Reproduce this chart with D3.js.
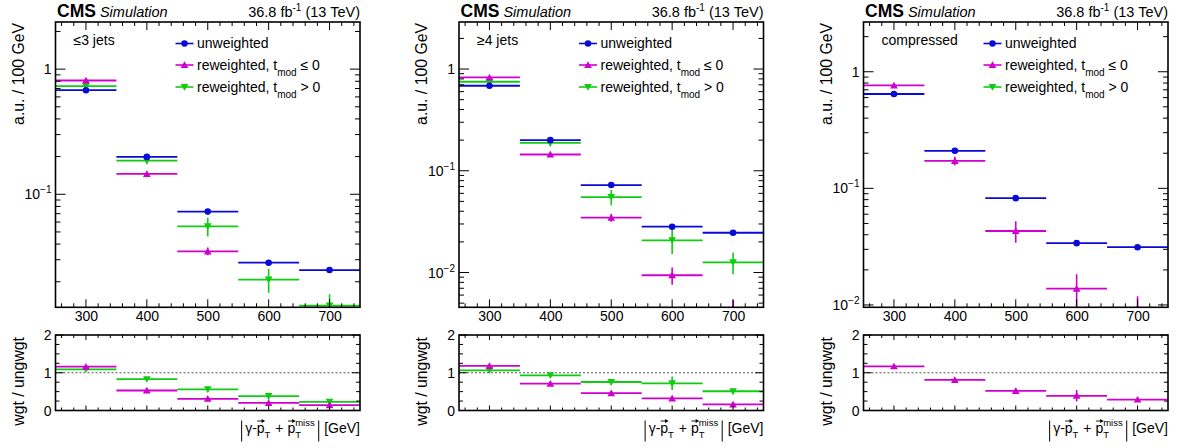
<!DOCTYPE html>
<html>
<head>
<meta charset="utf-8">
<script src="https://cdn.jsdelivr.net/npm/d3@7"></script>
<style>
  html, body { margin: 0; padding: 0; background: #fff; }
  svg { display: block; }
  text { font-family: "Liberation Sans", Arial, Helvetica, sans-serif; fill: #000; }
</style>
</head>
<body>
<svg id="chart" width="1178" height="448"></svg>
<script>
// Bin centres of the |gamma - pT + pTmiss| distribution [GeV], bin width 100 GeV
const binCenters = [300, 400, 500, 600, 700];
const binWidth = 100;
const xTickValues = [300, 400, 500, 600, 700];

const panelLabels = ["≤3 jets", "≥4 jets", "compressed"];
const legendLabels = ["unweighted", "reweighted, t", "reweighted, t"];
const legendRelations = ["", "\u00a0≤ 0", "\u00a0> 0"];
const lumiText = ["36.8 fb", "-1", "\u00a0(13 TeV)"];

// Vertical ranges of the upper (log) pads
const mainYDomains = [[0.0125, 2.38], [0.00455, 2.9], [0.00955, 2.67]];
const ratioYDomain = [0, 2];

// Normalised distributions (a.u. / 100 GeV)
const unwJets3 = [0.679, 0.199, 0.0727, 0.0284, 0.0248];
const unwJets4 = [0.685, 0.200, 0.0724, 0.0282, 0.0246];
const unwCompressed = [0.644, 0.210, 0.0824, 0.0339, 0.0313];
const unwErrJets3 = [0.008, 0.003, 0.0015, 0.0008, 0.0008];
const unwErrJets4 = [0.008, 0.003, 0.0015, 0.0008, 0.0008];
const unwErrCompressed = [0.008, 0.003, 0.0015, 0.0008, 0.0008];

// reweighted, t_mod <= 0
const lowJets3 = [0.811, 0.1455, 0.0350, 0.0057, 0.0035];
const lowJets4 = [0.828, 0.1445, 0.0346, 0.0094, 0.0044];
const lowCompressed = [0.764, 0.172, 0.0431, 0.0138, 0.0094];
const lowErrJets3 = [0.02, 0.006, 0.0025, 0.001, 0.001];
const lowErrJets4 = [0.02, 0.006, 0.003, 0.0018, 0.001];
const lowErrCompressed = [0.02, 0.015, 0.009, 0.0045, 0.0025];

// reweighted, t_mod > 0 (no entries in the compressed category)
const highJets3 = [0.731, 0.186, 0.0555, 0.0208, 0.0129];
const highJets4 = [0.750, 0.188, 0.0552, 0.0207, 0.0126];
const highCompressed = [];
const highErrJets3 = [0.02, 0.012, 0.0095, 0.0045, 0.003];
const highErrJets4 = [0.02, 0.015, 0.0095, 0.0055, 0.003];
const highErrCompressed = [];

// Ratios weighted / unweighted
const ratioLowJets3 = [1.16, 0.53, 0.31, 0.20, 0.14];
const ratioLowJets4 = [1.18, 0.71, 0.46, 0.32, 0.16];
const ratioLowCompressed = [1.17, 0.81, 0.52, 0.39, 0.29];
const ratioLowErrJets3 = [0.04, 0.03, 0.03, 0.03, 0.03];
const ratioLowErrJets4 = [0.05, 0.04, 0.05, 0.06, 0.05];
const ratioLowErrCompressed = [0.04, 0.05, 0.07, 0.15, 0.05];
const ratioHighJets3 = [1.09, 0.83, 0.56, 0.38, 0.23];
const ratioHighJets4 = [1.065, 0.93, 0.755, 0.72, 0.51];
const ratioHighCompressed = [];
const ratioHighErrJets3 = [0.04, 0.04, 0.06, 0.09, 0.06];
const ratioHighErrJets4 = [0.05, 0.05, 0.08, 0.18, 0.08];
const ratioHighErrCompressed = [];

const COL_UNW = "#0a0ad6";
const COL_LOW = "#d000d0";
const COL_HIGH = "#10cc10";
const FONT = 14;

const panels = [
  { label: panelLabels[0], yDom: mainYDomains[0],
    unw: unwJets3, unwErr: unwErrJets3, low: lowJets3, lowErr: lowErrJets3, high: highJets3, highErr: highErrJets3,
    rLow: ratioLowJets3, rLowErr: ratioLowErrJets3, rHigh: ratioHighJets3, rHighErr: ratioHighErrJets3 },
  { label: panelLabels[1], yDom: mainYDomains[1],
    unw: unwJets4, unwErr: unwErrJets4, low: lowJets4, lowErr: lowErrJets4, high: highJets4, highErr: highErrJets4,
    rLow: ratioLowJets4, rLowErr: ratioLowErrJets4, rHigh: ratioHighJets4, rHighErr: ratioHighErrJets4 },
  { label: panelLabels[2], yDom: mainYDomains[2],
    unw: unwCompressed, unwErr: unwErrCompressed, low: lowCompressed, lowErr: lowErrCompressed, high: highCompressed, highErr: highErrCompressed,
    rLow: ratioLowCompressed, rLowErr: ratioLowErrCompressed, rHigh: ratioHighCompressed, rHighErr: ratioHighErrCompressed }
];

const svg = d3.select("#chart");
const frameLefts = [55.5, 459, 863.5];
const frameW = 304.5;
const mainTop = 22, mainBottom = 307.3;
const ratioTop = 335, ratioBottom = 410.5;

const symCircle = d3.symbol().type(d3.symbolCircle).size(34)();
const symTri = d3.symbol().type(d3.symbolTriangle).size(26)();

function marker(g, kind, x, y, color) {
  return g.append("path").attr("d", kind === "circle" ? symCircle : symTri)
    .attr("fill", color)
    .attr("transform", `translate(${x},${y})` + (kind === "down" ? " rotate(180)" : "") + (kind !== "circle" ? " translate(0,0.8)" : ""));
}

function drawSeries(g, x, y, values, errs, color, kind) {
  if (!values || !values.length) return;
  const s = g.append("g");
  values.forEach((v, i) => {
    const c = binCenters[i];
    const e = errs[i] || 0;
    const lo = Math.max(v - e, y.domain()[0] * 0.1);
    s.append("line").attr("x1", x(c - binWidth / 2)).attr("x2", x(c + binWidth / 2))
      .attr("y1", y(v)).attr("y2", y(v)).attr("stroke", color).attr("stroke-width", 1.8);
    s.append("line").attr("x1", x(c)).attr("x2", x(c))
      .attr("y1", y(v + e)).attr("y2", y(lo)).attr("stroke", color).attr("stroke-width", 1.6);
    marker(s, kind, x(c), y(v), color);
  });
}

function ticksFrame(g, x, y, x0, x1, y0, y1, opts) {
  const tk = g.append("g").attr("stroke", "#000").attr("stroke-width", 1);
  // x ticks, major and minor, on bottom and top
  d3.range(260, 750, 20).forEach(v => {
    const L = xTickValues.includes(v) ? opts.xMajor : opts.xMinor;
    tk.append("line").attr("x1", x(v)).attr("x2", x(v)).attr("y1", y1).attr("y2", y1 - L);
    tk.append("line").attr("x1", x(v)).attr("x2", x(v)).attr("y1", y0).attr("y2", y0 + L);
  });
  opts.yTicks.forEach(t => {
    const L = t.major ? opts.yMajor : opts.yMinor;
    tk.append("line").attr("x1", x0).attr("x2", x0 + L).attr("y1", y(t.v)).attr("y2", y(t.v));
    tk.append("line").attr("x1", x1).attr("x2", x1 - L).attr("y1", y(t.v)).attr("y2", y(t.v));
  });
  g.append("rect").attr("x", x0).attr("y", y0).attr("width", x1 - x0).attr("height", y1 - y0)
    .attr("fill", "none").attr("stroke", "#000").attr("stroke-width", 1.6);
}

// |γ-p⃗T + p⃗T^miss| [GeV], laid out piece by piece and right-aligned
function xTitle(g, xRight, yBase) {
  const t = g.append("g");
  let x = 0;
  const piece = (str, dy, size) => {
    const el = t.append("text").attr("x", x).attr("y", dy).style("font-size", size + "px").text(str);
    return el.node().getComputedTextLength();
  };
  const arrow = (xa, xb, ya) => {
    t.append("line").attr("x1", xa).attr("x2", xb - 2).attr("y1", ya).attr("y2", ya).attr("stroke", "#000").attr("stroke-width", 0.9);
    t.append("path").attr("d", `M${xb},${ya} L${xb - 3.5},${ya - 2} L${xb - 3.5},${ya + 2} Z`).attr("fill", "#000");
  };
  const bar = () => {
    t.append("line").attr("x1", x + 1).attr("x2", x + 1).attr("y1", -12.5).attr("y2", 8.5).attr("stroke", "#000").attr("stroke-width", 1);
    x += 4.5;
  };
  bar();
  x += piece("γ-", 0, FONT);
  let w = piece("p", 0, FONT); arrow(x + 0.5, x + w + 0.5, -12); x += w;
  x += piece("T", 4.5, 9.5) + 1;
  x += piece("\u00a0+\u00a0", 0, FONT);
  w = piece("p", 0, FONT); arrow(x + 0.5, x + w + 0.5, -12); x += w;
  const xs = x;
  const wT = piece("T", 4.5, 9.5);
  x = xs;
  const wM = piece("miss", -7, 9.5);
  x = xs + Math.max(wT, wM) + 3;
  bar();
  x += 2;
  x += piece("[GeV]", 0, FONT);
  t.attr("transform", `translate(${xRight - x},${yBase})`);
}

panels.forEach((P, pi) => {
  const x0 = frameLefts[pi], x1 = x0 + frameW;
  const g = svg.append("g");
  const x = d3.scaleLinear().domain([250, 750]).range([x0, x1]);
  const y = d3.scaleLog().domain(P.yDom).range([mainBottom, mainTop]);
  const yr = d3.scaleLinear().domain(ratioYDomain).range([ratioBottom, ratioTop]);

  // clip regions
  const cidM = "clipM" + pi, cidR = "clipR" + pi;
  const defs = svg.append("defs");
  defs.append("clipPath").attr("id", cidM).append("rect").attr("x", x0).attr("y", mainTop).attr("width", frameW).attr("height", mainBottom - mainTop);
  defs.append("clipPath").attr("id", cidR).append("rect").attr("x", x0).attr("y", ratioTop).attr("width", frameW).attr("height", ratioBottom - ratioTop);

  // ---------- upper pad ----------
  const data = g.append("g").attr("clip-path", `url(#${cidM})`);
  drawSeries(data, x, y, P.high, P.highErr, COL_HIGH, "down");
  drawSeries(data, x, y, P.low, P.lowErr, COL_LOW, "up");
  drawSeries(data, x, y, P.unw, P.unwErr, COL_UNW, "circle");

  // log ticks
  const yTicks = [];
  const [ymin, ymax] = P.yDom;
  for (let e = Math.floor(Math.log10(ymin)); e <= Math.ceil(Math.log10(ymax)); e++) {
    for (let m = 1; m <= 9; m++) {
      const v = m * Math.pow(10, e);
      if (v >= ymin && v <= ymax) yTicks.push({ v, major: m === 1, e });
    }
  }
  ticksFrame(g, x, y, x0, x1, mainTop, mainBottom, { xMajor: 8, xMinor: 4, yMajor: 10, yMinor: 5, yTicks });

  // y tick labels
  yTicks.filter(t => t.major).forEach(t => {
    const tx = g.append("text").attr("x", x0 - 4).attr("y", y(t.v) + 5).attr("text-anchor", "end").style("font-size", FONT + "px");
    if (t.e === 0) tx.text("1");
    else {
      tx.append("tspan").text("10");
      tx.append("tspan").attr("dy", -6).style("font-size", "10px").text("−" + (-t.e));
    }
  });
  // x tick labels
  const xAxis = d3.axisBottom(x).tickValues(xTickValues).tickSize(0).tickPadding(0);
  const xa = g.append("g").attr("transform", `translate(0,${mainBottom + 4})`).call(xAxis);
  xa.select(".domain").remove();
  xa.selectAll("text").style("font-size", FONT + "px").style("font-family", '"Liberation Sans", Arial, sans-serif').attr("fill", "#000");

  // y title
  g.append("text").attr("transform", `translate(${x0 - 32},${mainTop + 1}) rotate(-90)`)
    .attr("text-anchor", "end").style("font-size", "15.8px").text("a.u. / 100 GeV");

  // CMS header
  const hdr = g.append("text").attr("x", x0 + 1.5).attr("y", 16.5);
  hdr.append("tspan").style("font-weight", "bold").style("font-size", "17.5px").text("CMS");
  hdr.append("tspan").style("font-style", "italic").style("font-size", "14.5px").text("\u00a0Simulation");
  const lumi = g.append("text").attr("x", x1).attr("y", 16.5).attr("text-anchor", "end").style("font-size", "14.5px");
  lumi.append("tspan").text(lumiText[0]);
  lumi.append("tspan").attr("dy", -6).style("font-size", "10px").text(lumiText[1]);
  lumi.append("tspan").attr("dy", 6).text(lumiText[2]);

  // category label
  g.append("text").attr("x", x0 + 18).attr("y", 45).style("font-size", FONT + "px").text(P.label);

  // legend
  const legColors = [COL_UNW, COL_LOW, COL_HIGH];
  const legKinds = ["circle", "up", "down"];
  const legY = [43.5, 65, 87];
  legendLabels.forEach((lab, i) => {
    const lx = x0 + 120, ly = legY[i];
    g.append("line").attr("x1", lx).attr("x2", lx + 18).attr("y1", ly).attr("y2", ly).attr("stroke", legColors[i]).attr("stroke-width", 1.6);
    marker(g, legKinds[i], lx + 9, ly, legColors[i]);
    const tx = g.append("text").attr("x", lx + 21.5).attr("y", ly + 4.8).style("font-size", FONT + "px");
    tx.append("tspan").text(lab);
    if (i > 0) {
      tx.append("tspan").attr("dy", 6).style("font-size", "10px").text("mod");
      tx.append("tspan").attr("dy", -6).text(legendRelations[i]);
    }
  });

  // ---------- ratio pad ----------
  const rdata = g.append("g").attr("clip-path", `url(#${cidR})`);
  rdata.append("line").attr("x1", x0).attr("x2", x1).attr("y1", yr(1)).attr("y2", yr(1))
    .attr("stroke", "#555").attr("stroke-width", 1).attr("stroke-dasharray", "2,2");
  drawSeries(rdata, x, yr, P.rHigh, P.rHighErr, COL_HIGH, "down");
  drawSeries(rdata, x, yr, P.rLow, P.rLowErr, COL_LOW, "up");

  const rTicks = d3.range(0, 2.001, 0.25).map(v => ({ v, major: Math.abs(v - Math.round(v)) < 1e-6 }));
  ticksFrame(g, x, yr, x0, x1, ratioTop, ratioBottom, { xMajor: 5, xMinor: 3, yMajor: 8, yMinor: 4, yTicks: rTicks });
  [0, 1, 2].forEach(v => {
    g.append("text").attr("x", x0 - 4).attr("y", yr(v) + 5).attr("text-anchor", "end").style("font-size", FONT + "px").text(v);
  });
  g.append("text").attr("transform", `translate(${x0 - 32},${ratioTop + 2}) rotate(-90)`)
    .attr("text-anchor", "end").style("font-size", "15.8px").text("wgt / ungwgt");

  xTitle(g, x1, 433);
});
</script>
</body>
</html>
